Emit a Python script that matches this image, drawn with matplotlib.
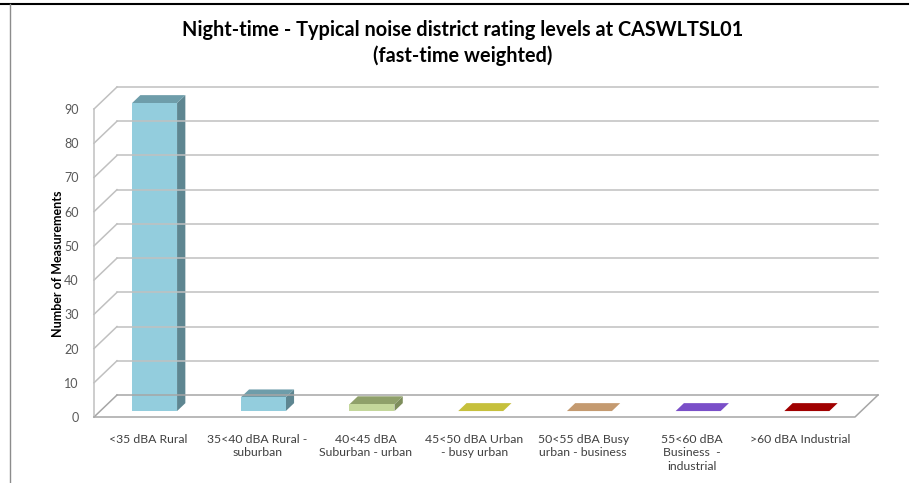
import matplotlib
matplotlib.use("Agg")
import matplotlib.pyplot as plt
from matplotlib.patches import Polygon
from matplotlib.lines import Line2D
from matplotlib.transforms import IdentityTransform
import numpy as np

plt.rcParams['font.family'] = ['Lato', 'DejaVu Sans']

categories = ["<35 dBA Rural", "35<40 dBA Rural -\nsuburban", "40<45 dBA\nSuburban - urban",
              "45<50 dBA Urban\n- busy urban", "50<55 dBA Busy\nurban - business",
              "55<60 dBA\nBusiness  -\nindustrial", ">60 dBA Industrial"]
values = [90, 4, 2, 0, 0, 0, 0]
yticks = [0, 10, 20, 30, 40, 50, 60, 70, 80, 90]

front_colors = ["#93CDDD", "#93CDDD", "#C4D79B", "#E4DE55", "#D9AE82", "#8E63DB", "#B80000"]
top_colors = ["#6E9DAA", "#6E9DAA", "#8FA06A", "#C6C03C", "#C49A70", "#7A4FC8", "#A00000"]
side_colors = ["#5E8691", "#5E8691", "#7E8E5C", "#A8A333", "#A8845F", "#6743AA", "#880000"]

W, H = 911, 483
fig = plt.figure(figsize=(W / 100, H / 100), dpi=100)
fig.patch.set_facecolor("white")

# front plane: x 94..855 px, y(0)=417 px, y(90)=109 px
left, right = 94, 855
y0, y90 = 417, 109
ax = fig.add_axes([left / W, (H - y0) / H, (right - left) / W, (y0 - y90) / H])
ax.set_xlim(0, len(categories))
ax.set_ylim(0, 90)
ax.patch.set_visible(False)
for s in ax.spines.values():
    s.set_visible(False)

DX, DY = 23, 22  # depth vector in px


def pt(x, y, t=0.0):
    px, py = ax.transData.transform((x, y))
    return (px + t * DX, py + t * DY)


grid_c = "#C0C0C0"
floor_c = "#A6A6A6"
ident = IdentityTransform()
nc = len(categories)

# back wall gridlines and left wall diagonals
for v in yticks:
    a = pt(0, v, 1)
    b = pt(nc, v, 1)
    c = pt(0, v, 0)
    col = grid_c if v > 0 else floor_c
    fig.add_artist(Line2D([a[0], b[0]], [a[1], b[1]], color=col, lw=1.1, transform=ident))
    fig.add_artist(Line2D([c[0], a[0]], [c[1], a[1]], color=col, lw=1.1, transform=ident))
# left wall front vertical
c0, c1 = pt(0, 0), pt(0, 90)
fig.add_artist(Line2D([c0[0], c1[0]], [c0[1], c1[1]], color=grid_c, lw=1.1, transform=ident))
# floor front edge and right diagonal
f0, f1, f2 = pt(0, 0), pt(nc, 0), pt(nc, 0, 1)
fig.add_artist(Line2D([f0[0], f1[0], f2[0]], [f0[1], f1[1], f2[1]], color=floor_c, lw=1.1, transform=ident))

# bars
hw = 0.207
t1, t2 = 0.27, 0.63
for i, v in enumerate(values):
    xc = i + 0.5
    xl, xr = xc - hw, xc + hw
    if v > 0:
        side = [pt(xr, 0, t1), pt(xr, 0, t2), pt(xr, v, t2), pt(xr, v, t1)]
        fig.add_artist(Polygon(side, closed=True, facecolor=side_colors[i], edgecolor="none", transform=ident))
    top = [pt(xl, v, t1), pt(xr, v, t1), pt(xr, v, t2), pt(xl, v, t2)]
    fig.add_artist(Polygon(top, closed=True, facecolor=top_colors[i], edgecolor="none", transform=ident))
    if v > 0:
        front = [pt(xl, 0, t1), pt(xr, 0, t1), pt(xr, v, t1), pt(xl, v, t1)]
        fig.add_artist(Polygon(front, closed=True, facecolor=front_colors[i], edgecolor="none", transform=ident))

# ticks
ax.set_yticks(yticks)
ax.set_yticklabels([str(v) for v in yticks], fontsize=9, color="#595959")
ax.tick_params(axis="y", length=0, pad=11)
ax.set_xticks(np.arange(nc) + 0.5)
ax.set_xticklabels(categories, fontsize=8.8, color="#404040", linespacing=1.3, va="top")
ax.tick_params(axis="x", length=0, pad=12)

ax.set_ylabel("Number of Measurements", fontsize=9, fontweight="bold", color="black")
ax.yaxis.set_label_coords((64 - left) / (right - left), (y0 - 264) / (y0 - y90))

fig.text(463 / W, 1 - 30 / H, "Night-time - Typical noise district rating levels at CASWLTSL01",
         ha="center", va="center", fontsize=14.3, fontweight="bold")
fig.text(463 / W, 1 - 56 / H, "(fast-time weighted)", ha="center", va="center",
         fontsize=14.3, fontweight="bold")

# frame lines
fig.add_artist(Line2D([0, 908 / W], [1 - 3.5 / H, 1 - 3.5 / H], color="black", lw=1.5))
fig.add_artist(Line2D([10 / W, 10 / W], [0, 1 - 4 / H], color="#8C8C8C", lw=1.0))

fig.savefig("out.png", dpi=100, facecolor="white")
